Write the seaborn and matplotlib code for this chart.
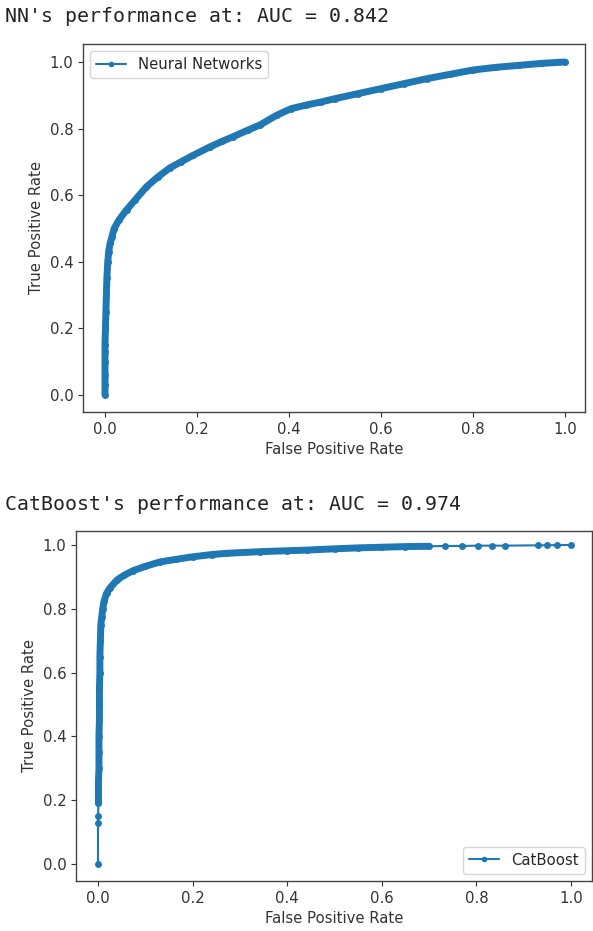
import numpy as np
import pandas as pd
import matplotlib
matplotlib.use("Agg")
import matplotlib.pyplot as plt
from matplotlib.lines import Line2D
import seaborn as sns

# ---------------- data ----------------
nn_title = "NN's performance at: AUC = 0.842"
cb_title = "CatBoost's performance at: AUC = 0.974"
nn_label = "Neural Networks"
cb_label = "CatBoost"

nn_fpr = [0.000, 0.000, 0.000, 0.000, 0.000, 0.000, 0.001, 0.002, 0.003, 0.004,
          0.006, 0.008, 0.011, 0.015, 0.020, 0.030, 0.047, 0.065, 0.090, 0.115,
          0.141, 0.165, 0.192, 0.228, 0.255, 0.279, 0.310, 0.337, 0.373, 0.405,
          0.438, 0.470, 0.500, 0.550, 0.600, 0.650, 0.700, 0.750, 0.800, 0.850,
          0.900, 0.950, 1.000]
nn_tpr = [0.000, 0.030, 0.060, 0.100, 0.130, 0.150, 0.200, 0.250, 0.300, 0.350,
          0.400, 0.430, 0.455, 0.475, 0.500, 0.525, 0.556, 0.585, 0.625, 0.655,
          0.682, 0.700, 0.720, 0.745, 0.762, 0.776, 0.795, 0.811, 0.840, 0.860,
          0.871, 0.880, 0.890, 0.905, 0.920, 0.935, 0.950, 0.963, 0.976, 0.984,
          0.990, 0.996, 1.000]

cb_fpr = [0.000, 0.000, 0.000, 0.001, 0.001, 0.001, 0.002, 0.002, 0.002, 0.003,
          0.003, 0.003, 0.004, 0.004, 0.005, 0.006, 0.008, 0.010, 0.013, 0.018,
          0.025, 0.040, 0.055, 0.075, 0.100, 0.131, 0.165, 0.200, 0.240, 0.272,
          0.342, 0.400, 0.441, 0.500, 0.550, 0.600, 0.650, 0.700, 0.734, 0.770,
          0.803, 0.833, 0.860, 0.930, 0.950, 0.970, 1.000]
cb_tpr = [0.000, 0.130, 0.150, 0.190, 0.230, 0.260, 0.300, 0.350, 0.400, 0.450,
          0.500, 0.550, 0.600, 0.650, 0.700, 0.750, 0.775, 0.800, 0.825, 0.848,
          0.865, 0.890, 0.905, 0.920, 0.933, 0.947, 0.955, 0.963, 0.970, 0.974,
          0.979, 0.982, 0.984, 0.988, 0.991, 0.993, 0.995, 0.996, 0.997, 0.997,
          0.998, 0.998, 0.998, 0.999, 0.999, 1.000, 1.000]

nn_dense = (0, len(nn_fpr))
cb_dense = (3, 38)

# ---------------- style ----------------
sns.set_style("white")
plt.rcParams['font.family'] = ['DejaVu Sans']
plt.rcParams['axes.edgecolor'] = '#444444'
plt.rcParams['axes.linewidth'] = 1.0
plt.rcParams['xtick.color'] = '#333333'
plt.rcParams['ytick.color'] = '#333333'
plt.rcParams['xtick.bottom'] = True
plt.rcParams['ytick.left'] = True
color = '#1f77b4'
fs = 10.7

fig = plt.figure(figsize=(5.93, 9.31), dpi=100)
W, H = 593, 931


def add_axes(left, top, right, bottom):
    return fig.add_axes([left / W, (H - bottom) / H, (right - left) / W, (bottom - top) / H])


ax1 = add_axes(83, 44, 585, 412)
ax2 = add_axes(76, 531, 592, 881)


def draw(ax, fpr, tpr, label, dense, loc):
    df = pd.DataFrame({"fpr": fpr, "tpr": tpr})
    d = df.iloc[dense[0]:dense[1]]
    sns.lineplot(data=d, x="fpr", y="tpr", ax=ax, sort=False, estimator=None,
                 color=color, lw=5.0, solid_capstyle='round', solid_joinstyle='round')
    sns.lineplot(data=df, x="fpr", y="tpr", ax=ax, sort=False, estimator=None,
                 color=color, lw=1.5, marker='.', markersize=10,
                 markeredgewidth=0, markerfacecolor=color)
    ax.set_xlabel("False Positive Rate", fontsize=fs, color='#333333')
    ax.set_ylabel("True Positive Rate", fontsize=fs, color='#333333')
    ax.tick_params(labelsize=fs, length=3.5, width=0.8, colors='#333333')
    ax.set_xticks([0.0, 0.2, 0.4, 0.6, 0.8, 1.0])
    ax.set_yticks([0.0, 0.2, 0.4, 0.6, 0.8, 1.0])
    h = Line2D([], [], color=color, lw=1.5, marker='.', markersize=6)
    ax.legend(handles=[h], labels=[label], loc=loc, fontsize=fs, frameon=True)
    for s in ax.spines.values():
        s.set_visible(True)


draw(ax1, nn_fpr, nn_tpr, nn_label, nn_dense, "upper left")
draw(ax2, cb_fpr, cb_tpr, cb_label, cb_dense, "lower right")

ax1.set_xlim(-22 / 460, 1 + 20 / 460)
ax1.set_ylim(-17 / 333, 1 + 18 / 333)
ax2.set_xlim(-22 / 473, 1 + 21 / 473)
ax2.set_ylim(-17 / 319, 1 + 14 / 319)

fig.text(5 / W, 1 - 17 / H, nn_title, fontsize=14.3, family='DejaVu Sans Mono',
         color='#222222', va='center', ha='left')
fig.text(5 / W, 1 - 505 / H, cb_title, fontsize=14.3, family='DejaVu Sans Mono',
         color='#222222', va='center', ha='left')

fig.savefig("out.png", dpi=100, facecolor='white')
